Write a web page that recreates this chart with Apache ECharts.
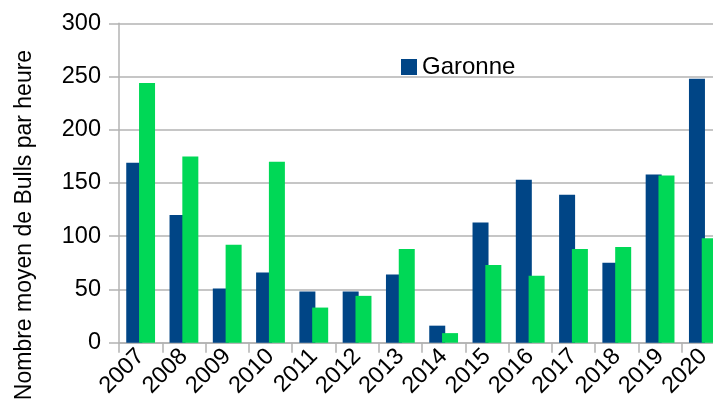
<!DOCTYPE html>
<html>
<head>
<meta charset="utf-8">
<script src="https://cdn.jsdelivr.net/npm/echarts@6/dist/echarts.min.js"></script>
<style>
  html, body { margin: 0; padding: 0; background: #fff; }
  #chart { width: 713px; height: 412px; }
</style>
</head>
<body>
<div id="chart"></div>
<script>
var years = ['2007', '2008', '2009', '2010', '2011', '2012', '2013',
             '2014', '2015', '2016', '2017', '2018', '2019', '2020'];
var garonne = [169, 120, 51, 66, 48, 48, 64, 16, 113, 153, 139, 75, 158, 248];
var secondSeries = [244, 175, 92, 170, 33, 44, 88, 9, 73, 63, 88, 90, 157, 98];
var yTicks = [0, 50, 100, 150, 200, 250, 300];

var font = '"Liberation Sans", Arial, sans-serif';
var gridGray = '#b3b3b3';

var chart = echarts.init(document.getElementById('chart'), null, { renderer: 'canvas' });

chart.setOption({
  animation: false,
  grid: {
    left: 119, top: 23.3, bottom: 69.3, width: 606,
    containLabel: false, outerBoundsMode: 'none'
  },
  legend: {
    data: ['Garonne'],
    left: 401, top: 55, padding: 0,
    itemWidth: 16, itemHeight: 16, itemGap: 8,
    textStyle: { fontFamily: font, fontSize: 24, color: '#000' },
    icon: 'rect'
  },
  graphic: [{
    type: 'text',
    x: 25, y: 225,
    rotation: Math.PI / 2,
    style: {
      text: 'Nombre moyen de Bulls par heure',
      font: '23px ' + font,
      fill: '#000',
      align: 'center',
      verticalAlign: 'middle'
    }
  }],
  xAxis: {
    type: 'category',
    data: years,
    axisLine: { lineStyle: { color: gridGray, width: 1.5 } },
    axisTick: { show: true, length: 10, alignWithLabel: false, lineStyle: { color: gridGray, width: 1.5 } },
    axisLabel: { rotate: 45, margin: 10, fontFamily: font, fontSize: 23.5, color: '#000', interval: 0 }
  },
  yAxis: {
    type: 'value',
    min: yTicks[0], max: yTicks[yTicks.length - 1], interval: 50,
    axisLine: { show: true, lineStyle: { color: gridGray, width: 1.5 } },
    axisTick: { show: true, length: 10, lineStyle: { color: gridGray, width: 1.5 } },
    splitLine: { lineStyle: { color: gridGray, width: 1.5 } },
    axisLabel: { fontFamily: font, fontSize: 23.5, color: '#000', margin: 18 }
  },
  series: [{
    name: 'Garonne',
    type: 'bar',
    data: garonne,
    barWidth: 16,
    barGap: '-20%',
    itemStyle: { color: '#004586' }
  }, {
    name: 'Série 2',
    type: 'bar',
    data: secondSeries,
    barWidth: 16,
    itemStyle: { color: '#00d856' }
  }]
});
</script>
</body>
</html>
